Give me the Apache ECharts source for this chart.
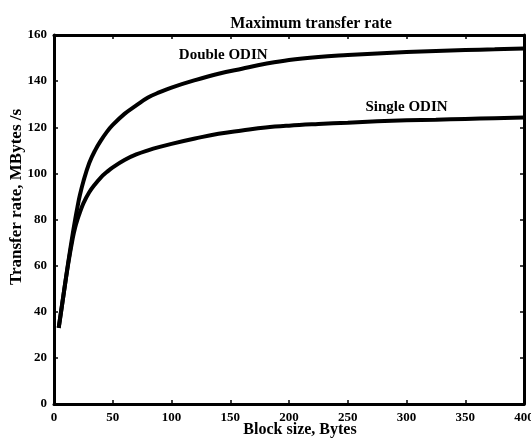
<!DOCTYPE html>
<html>
<head>
<meta charset="utf-8">
<script src="https://cdn.jsdelivr.net/npm/echarts@6/dist/echarts.min.js"></script>
<style>html,body{margin:0;padding:0;background:#fff}#c{width:531px;height:440px}</style>
</head>
<body>
<div id="c"></div>
<script>
// Data
const blockSize = [4, 8, 12, 16, 18, 20, 22, 25, 30, 35, 40, 45, 50, 60, 70, 80, 90, 100, 120, 140, 160, 180, 200, 225, 250, 275, 300, 325, 350, 375, 400];
const doubleOdin = [33, 47, 61, 74, 80, 85.5, 90.5, 96.5, 104.5, 110, 114.3, 118, 121, 125.8, 129.5, 132.9, 135.2, 137.2, 140.4, 143.2, 145.4, 147.5, 149.2, 150.5, 151.3, 152, 152.6, 153.1, 153.5, 153.8, 154.1];
const singleOdin = [33, 47, 60.5, 72, 76.5, 80, 83, 87, 91.8, 95.3, 98.3, 100.6, 102.6, 105.8, 108.2, 110, 111.5, 112.8, 115.1, 117.2, 118.6, 119.9, 120.7, 121.4, 122, 122.6, 123, 123.3, 123.6, 123.9, 124.2];
const seriesNames = ["Double ODIN", "Single ODIN"];
const labelAnchors = [[144, 151.3], [300, 128.8]];
const titleText = "Maximum transfer rate";
const xName = "Block size, Bytes";
const yName = "Transfer rate, MBytes /s";

const font = "'Liberation Serif', 'DejaVu Serif', serif";
const chart = echarts.init(document.getElementById('c'), null, {renderer: 'canvas'});

function pairs(xs, ys) { return xs.map((x, i) => [x, ys[i]]); }

const axisLine = {show: true, onZero: false, lineStyle: {color: '#000', width: 3}};
const axisTick = {show: true, inside: true, length: 4, lineStyle: {color: '#000', width: 1.5}};
const labelStyle = {color: '#000', fontFamily: font, fontWeight: 'bold', fontSize: 13};

function mkSeries(name, ys, anchor) {
  return {
    name: name, type: 'line', data: pairs(blockSize, ys),
    showSymbol: false, smooth: 0.4, animation: false,
    lineStyle: {color: '#000', width: 4},
    markPoint: {
      symbol: 'circle', symbolSize: 2, animation: false,
      itemStyle: {color: 'rgba(0,0,0,0)'},
      data: [{coord: anchor, value: name}],
      label: {show: true, formatter: name, position: 'inside', ...labelStyle, fontSize: 15}
    }
  };
}

chart.setOption({
  backgroundColor: '#fff',
  animation: false,
  title: {
    text: titleText, left: 306, top: 11, textAlign: 'center',
    textStyle: {color: '#000', fontFamily: font, fontWeight: 'bold', fontSize: 16}
  },
  grid: {left: 54, right: 7, top: 35, bottom: 36, containLabel: false, outerBoundsMode: 'none'},
  xAxis: [{
    type: 'value', min: 0, max: 400, interval: 50, position: 'bottom',
    name: xName, nameLocation: 'middle', nameGap: 18, nameMoveOverlap: false,
    nameTextStyle: {...labelStyle, fontSize: 16, padding: [0, 0, 0, 22]},
    axisLine: axisLine, axisTick: axisTick,
    axisLabel: {...labelStyle, margin: 7},
    splitLine: {show: false}
  }, {
    type: 'value', min: 0, max: 400, interval: 50, position: 'top',
    axisLine: axisLine, axisTick: axisTick, axisLabel: {show: false}, splitLine: {show: false}
  }],
  yAxis: [{
    type: 'value', min: 0, max: 160, interval: 20, position: 'left',
    name: yName, nameLocation: 'middle', nameGap: 29, nameRotate: 90, nameMoveOverlap: false,
    nameTextStyle: {...labelStyle, fontSize: 17, padding: [0, 0, 0, 45]},
    axisLine: axisLine, axisTick: axisTick,
    axisLabel: {...labelStyle, margin: 7},
    splitLine: {show: false}
  }, {
    type: 'value', min: 0, max: 160, interval: 20, position: 'right',
    axisLine: axisLine, axisTick: axisTick, axisLabel: {show: false}, splitLine: {show: false}
  }],
  series: [
    mkSeries(seriesNames[0], doubleOdin, labelAnchors[0]),
    mkSeries(seriesNames[1], singleOdin, labelAnchors[1])
  ]
});
</script>
</body>
</html>
